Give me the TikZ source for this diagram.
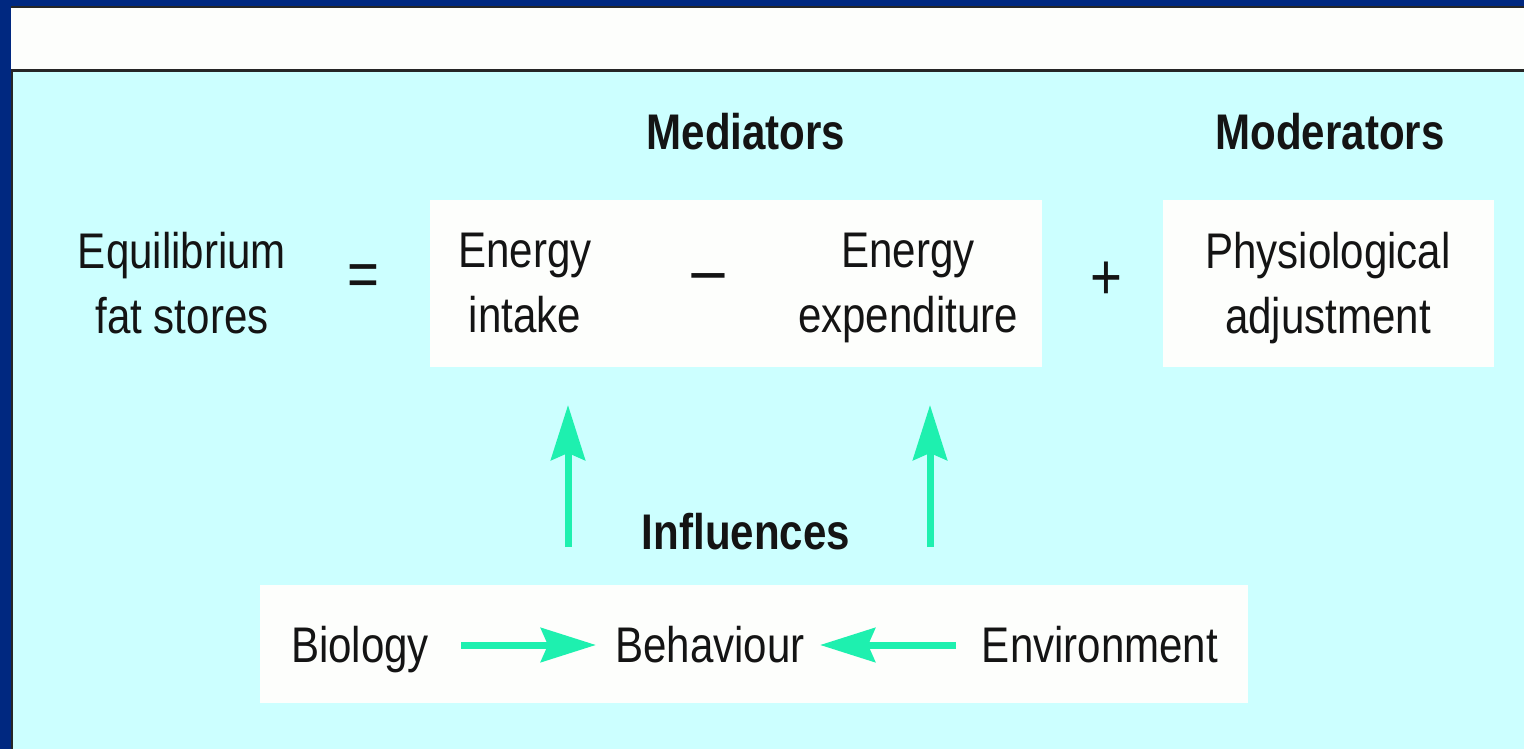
\documentclass[tikz,border=0pt]{standalone}
\usepackage{fontspec}
\setmainfont{Liberation Sans}[FakeStretch=0.84]
\usetikzlibrary{arrows.meta}

\definecolor{frameblue}{RGB}{0,40,128}
\definecolor{slidecyan}{RGB}{204,255,255}
\definecolor{paper}{RGB}{253,254,252}
\definecolor{arrowgreen}{RGB}{30,240,175}
\definecolor{ink}{RGB}{20,20,20}

\begin{document}
\begin{tikzpicture}
    [x=0.02cm,y=-0.02cm,text=ink,
     term/.style={inner sep=0pt,align=center,font=\fontsize{28.5}{37}\selectfont},
     word/.style={term,text height=20.4pt,text depth=0pt},
     heading/.style={inner sep=0pt,anchor=base,font=\fontsize{28.5}{37}\selectfont\bfseries},
     sign/.style={term,font=\fontsize{37}{37}\selectfont},
     push/.style={draw=arrowgreen,line width=0.14cm,
                  -{Stealth[length=1.1cm,width=0.68cm,inset=0.14cm]}}]

    \useasboundingbox (0,0) rectangle (1524,749);

    % slide frame, title strip and background
    \fill[frameblue] (0,0) rectangle (1524,749);
    \fill[paper] (11,7) rectangle (1524,71);
    \fill[slidecyan] (12,72) rectangle (1524,749);
    \draw[black!85,line width=0.03cm] (11,7) -- (1524,7);
    \draw[black!85,line width=0.06cm] (11,71) -- (1524,71);
    \draw[black!85,line width=0.04cm] (12,71) -- (12,749);

    % white panels
    \foreach \x/\y/\xx/\yy in {430/200/1042/367, 1163/200/1494/367, 260/585/1248/703}
      \fill[paper] (\x,\y) rectangle (\xx,\yy);

    \node[heading] (med-head) at (746,150) {Mediators};
    \node[heading] (mod-head) at (1330,150) {Moderators};
    \node[heading] (inf-head) at (746,549) {Influences};

    \foreach \name/\x/\y/\words in {fat/182/283/Equilibrium\\fat stores, intake/525/283/Energy\\intake,
                                     spend/908/288/Energy\\expenditure, adjust/1328/288/Physiological\\adjustment}
      \node[term] (\name) at (\x,\y) {\words};

    \node[sign] (equals) at (363,281) {=};
    \node[sign] (minus) at (708,286) {\scalebox{1.25}[1]{−}};
    \node[sign] (plus) at (1106,281) {+};

    \foreach \name/\x/\words in {bio/360/Biology, beh/710/Behaviour, env/1100/Environment}
      \node[word] (\name) at (\x,645) {\words};

    % influences acting on the mediators
    \coordinate (intake-foot) at (568,547);
    \coordinate (intake-tip) at (568,405);
    \coordinate (spend-foot) at (930,547);
    \coordinate (spend-tip) at (930,405);
    \draw[push] (intake-foot) -- (intake-tip);
    \draw[push] (spend-foot) -- (spend-tip);

    \draw[push,shorten <=0.64cm,shorten >=0.38cm] (bio) -- (beh);
    \draw[push,shorten <=0.52cm,shorten >=0.30cm] (env) -- (beh);
\end{tikzpicture}
\end{document}
